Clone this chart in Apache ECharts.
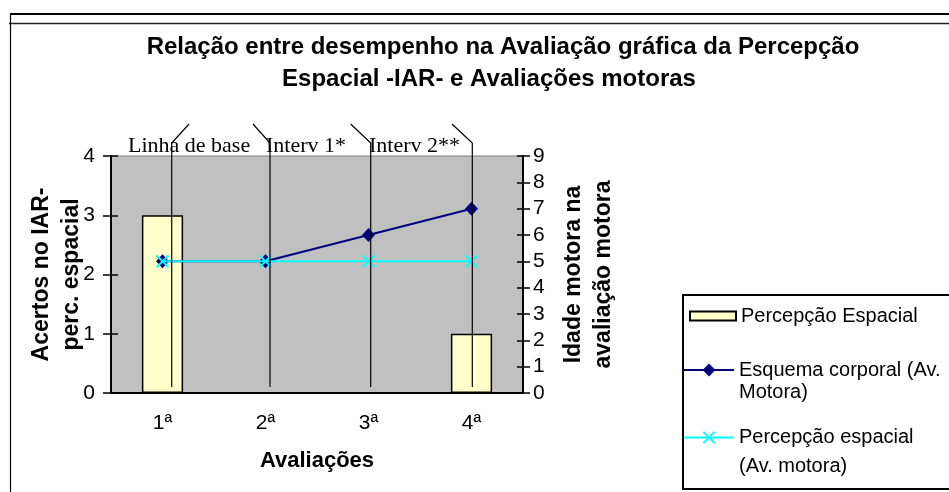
<!DOCTYPE html>
<html>
<head>
<meta charset="utf-8">
<script src="https://cdn.jsdelivr.net/npm/echarts@6/dist/echarts.min.js"></script>
<style>
  html, body { margin: 0; padding: 0; background: #ffffff; }
  #chart { width: 949px; height: 492px; }
</style>
</head>
<body>
<div id="chart"></div>
<script>
// Avaliações (categorias do eixo X)
const categories = ['1ª', '2ª', '3ª', '4ª'];
// Acertos no IAR - percepção espacial (eixo esquerdo)
const acertosIAR = [3, 0, 0, 1];
// Idade motora na avaliação motora (eixo direito)
const esquemaCorporal = [5, 5, 6, 7];
const percepcaoMotora = [5, 5, 5, 5];
// Limites dos eixos
const leftAxisMax = 4;
const rightAxisMax = 9;
// Fases do estudo
const phaseLabels = ['Linha de base', 'Interv 1*', 'Interv 2**'];

const sans = '"Liberation Sans", Arial, sans-serif';
const serif = '"Liberation Serif", "Times New Roman", serif';

const seriesNames = [
  'Percepção Espacial',
  'Esquema corporal (Av. Motora)',
  'Percepção espacial (Av. motora)'
];

const chart = echarts.init(document.getElementById('chart'), null, { renderer: 'canvas' });

const tickStyle = { color: '#000', width: 1.5 };

const option = {
  animation: false,
  backgroundColor: '#ffffff',
  title: [
    {
      text: 'Relação entre desempenho na Avaliação gráfica da Percepção',
      left: 503, top: 35, padding: 0, textAlign: 'center',
      textStyle: { fontFamily: sans, fontSize: 24, fontWeight: 'bold', color: '#000' }
    },
    {
      text: 'Espacial -IAR- e Avaliações motoras',
      left: 489, top: 67, padding: 0, textAlign: 'center',
      textStyle: { fontFamily: sans, fontSize: 24, fontWeight: 'bold', color: '#000' }
    }
  ],
  grid: {
    left: 111, right: 426, top: 156, bottom: 99,
    show: true, backgroundColor: '#C0C0C0', borderColor: '#808080', borderWidth: 1
  },
  legend: [
    {
      data: [seriesNames[0]], orient: 'vertical', left: 689, top: 305, padding: 0,
      icon: 'rect', itemWidth: 46, itemHeight: 9,
      itemStyle: { borderColor: '#000', borderWidth: 2 },
      textStyle: { fontFamily: sans, fontSize: 20, color: '#000', lineHeight: 22 },
      selectedMode: false
    },
    {
      data: [seriesNames[1]], orient: 'vertical', left: 683, top: 337, padding: 0,
      itemWidth: 50, itemHeight: 16,
      formatter: () => '\nEsquema corporal (Av.\nMotora)',
      textStyle: { fontFamily: sans, fontSize: 20, color: '#000', lineHeight: 22 },
      selectedMode: false
    },
    {
      data: [seriesNames[2]], orient: 'vertical', left: 683, top: 394, padding: 0,
      itemWidth: 50, itemHeight: 14,
      formatter: () => '\nPercepção espacial\n(Av. motora)',
      textStyle: { fontFamily: sans, fontSize: 20, color: '#000', lineHeight: 29 },
      selectedMode: false
    }
  ],
  xAxis: [
    {
      type: 'category', data: categories, position: 'bottom',
      axisLine: { lineStyle: { color: '#000', width: 2 } },
      axisTick: { length: 7, lineStyle: tickStyle },
      axisLabel: { margin: 20, fontFamily: sans, fontSize: 21, color: '#000' },
      splitLine: { show: false },
      name: 'Avaliações', nameLocation: 'middle', nameGap: 57, nameMoveOverlap: false,
      nameTextStyle: { fontFamily: sans, fontSize: 22, fontWeight: 'bold', color: '#000' }
    },
    {
      type: 'category', data: categories, position: 'bottom',
      axisLine: { show: false },
      axisTick: { inside: true, length: 8, lineStyle: tickStyle },
      axisLabel: { show: false }, splitLine: { show: false }
    }
  ],
  yAxis: [
    {
      type: 'value', position: 'left', min: 0, max: leftAxisMax, interval: 1,
      axisLine: { show: true, lineStyle: { color: '#000', width: 2 } },
      axisTick: { show: true, length: 8, lineStyle: tickStyle },
      axisLabel: { margin: 16, fontFamily: sans, fontSize: 21, color: '#000' },
      splitLine: { show: false },
      name: 'Acertos no IAR-\nperc. espacial', nameLocation: 'middle', nameGap: 24, nameRotate: 90,
      nameMoveOverlap: false,
      nameTextStyle: { fontFamily: sans, fontSize: 23, fontWeight: 'bold', color: '#000', lineHeight: 30 }
    },
    {
      type: 'value', position: 'right', min: 0, max: rightAxisMax, interval: 1,
      axisLine: { show: true, lineStyle: { color: '#000', width: 2 } },
      axisTick: { show: true, length: 7, lineStyle: tickStyle },
      axisLabel: { margin: 10, fontFamily: sans, fontSize: 21, color: '#000' },
      splitLine: { show: false },
      name: 'Idade motora na\navaliação motora', nameLocation: 'middle', nameGap: 36, nameRotate: 90,
      nameMoveOverlap: false,
      nameTextStyle: { fontFamily: sans, fontSize: 23, fontWeight: 'bold', color: '#000', lineHeight: 30 }
    },
    {
      type: 'value', position: 'left', min: 0, max: leftAxisMax, interval: 1,
      axisLine: { show: false },
      axisTick: { show: true, inside: true, length: 7, lineStyle: tickStyle },
      axisLabel: { show: false }, splitLine: { show: false }
    },
    {
      type: 'value', position: 'right', min: 0, max: rightAxisMax, interval: 1,
      axisLine: { show: false },
      axisTick: { show: true, inside: true, length: 6, lineStyle: tickStyle },
      axisLabel: { show: false }, splitLine: { show: false }
    }
  ],
  series: [
    {
      name: seriesNames[0], type: 'bar', data: acertosIAR, yAxisIndex: 0,
      barWidth: '40%',
      itemStyle: { color: '#FFFFCC', borderColor: '#000', borderWidth: 1.5 },
      z: 2
    },
    {
      name: seriesNames[1], type: 'line', data: esquemaCorporal, yAxisIndex: 1,
      symbol: 'diamond', symbolSize: [13, 14], showAllSymbol: true,
      lineStyle: { color: '#000080', width: 2 },
      itemStyle: { color: '#000080' },
      z: 3
    },
    {
      name: seriesNames[2], type: 'line', data: percepcaoMotora, yAxisIndex: 1,
      symbol: 'path://M0,0L10,10M10,0L0,10', symbolSize: 12, showAllSymbol: true,
      lineStyle: { color: '#00FFFF', width: 2 },
      itemStyle: { color: '#00FFFF', borderColor: '#00FFFF', borderWidth: 2 },
      z: 4
    }
  ],
  graphic: [
    // moldura da página
    { type: 'line', shape: { x1: 10, y1: 14, x2: 949, y2: 14 }, style: { stroke: '#000', lineWidth: 2 }, z: 1 },
    { type: 'line', shape: { x1: 9, y1: 23.5, x2: 949, y2: 23.5 }, style: { stroke: '#222', lineWidth: 1.5 }, z: 1 },
    { type: 'line', shape: { x1: 10.5, y1: 13, x2: 10.5, y2: 492 }, style: { stroke: '#000', lineWidth: 1.2 }, z: 1 },
    // caixa da legenda
    { type: 'rect', shape: { x: 683, y: 295, width: 300, height: 194 }, style: { fill: '#fff', stroke: '#000', lineWidth: 2 }, z: 1 },
    // rótulos das fases
    { type: 'text', x: 128, y: 146, style: { text: phaseLabels[0], font: '22px ' + serif, fill: '#000', verticalAlign: 'middle' }, z: 50 },
    { type: 'text', x: 266, y: 146, style: { text: phaseLabels[1], font: '22px ' + serif, fill: '#000', verticalAlign: 'middle' }, z: 50 },
    { type: 'text', x: 369, y: 146, style: { text: phaseLabels[2], font: '22px ' + serif, fill: '#000', verticalAlign: 'middle' }, z: 50 },
    // linhas de chamada das fases
    { type: 'polyline', shape: { points: [[189, 124], [171.7, 143], [171.7, 387]] }, style: { stroke: '#000', lineWidth: 1.2, fill: null }, z: 60 },
    { type: 'polyline', shape: { points: [[253, 124], [270, 143], [270, 387]] }, style: { stroke: '#000', lineWidth: 1.2, fill: null }, z: 60 },
    { type: 'polyline', shape: { points: [[350.7, 124], [370.7, 143], [370.7, 387]] }, style: { stroke: '#000', lineWidth: 1.2, fill: null }, z: 60 },
    { type: 'polyline', shape: { points: [[452, 124], [472.3, 143], [472.3, 387]] }, style: { stroke: '#000', lineWidth: 1.2, fill: null }, z: 60 }
  ]
};

chart.setOption(option);
</script>
</body>
</html>
